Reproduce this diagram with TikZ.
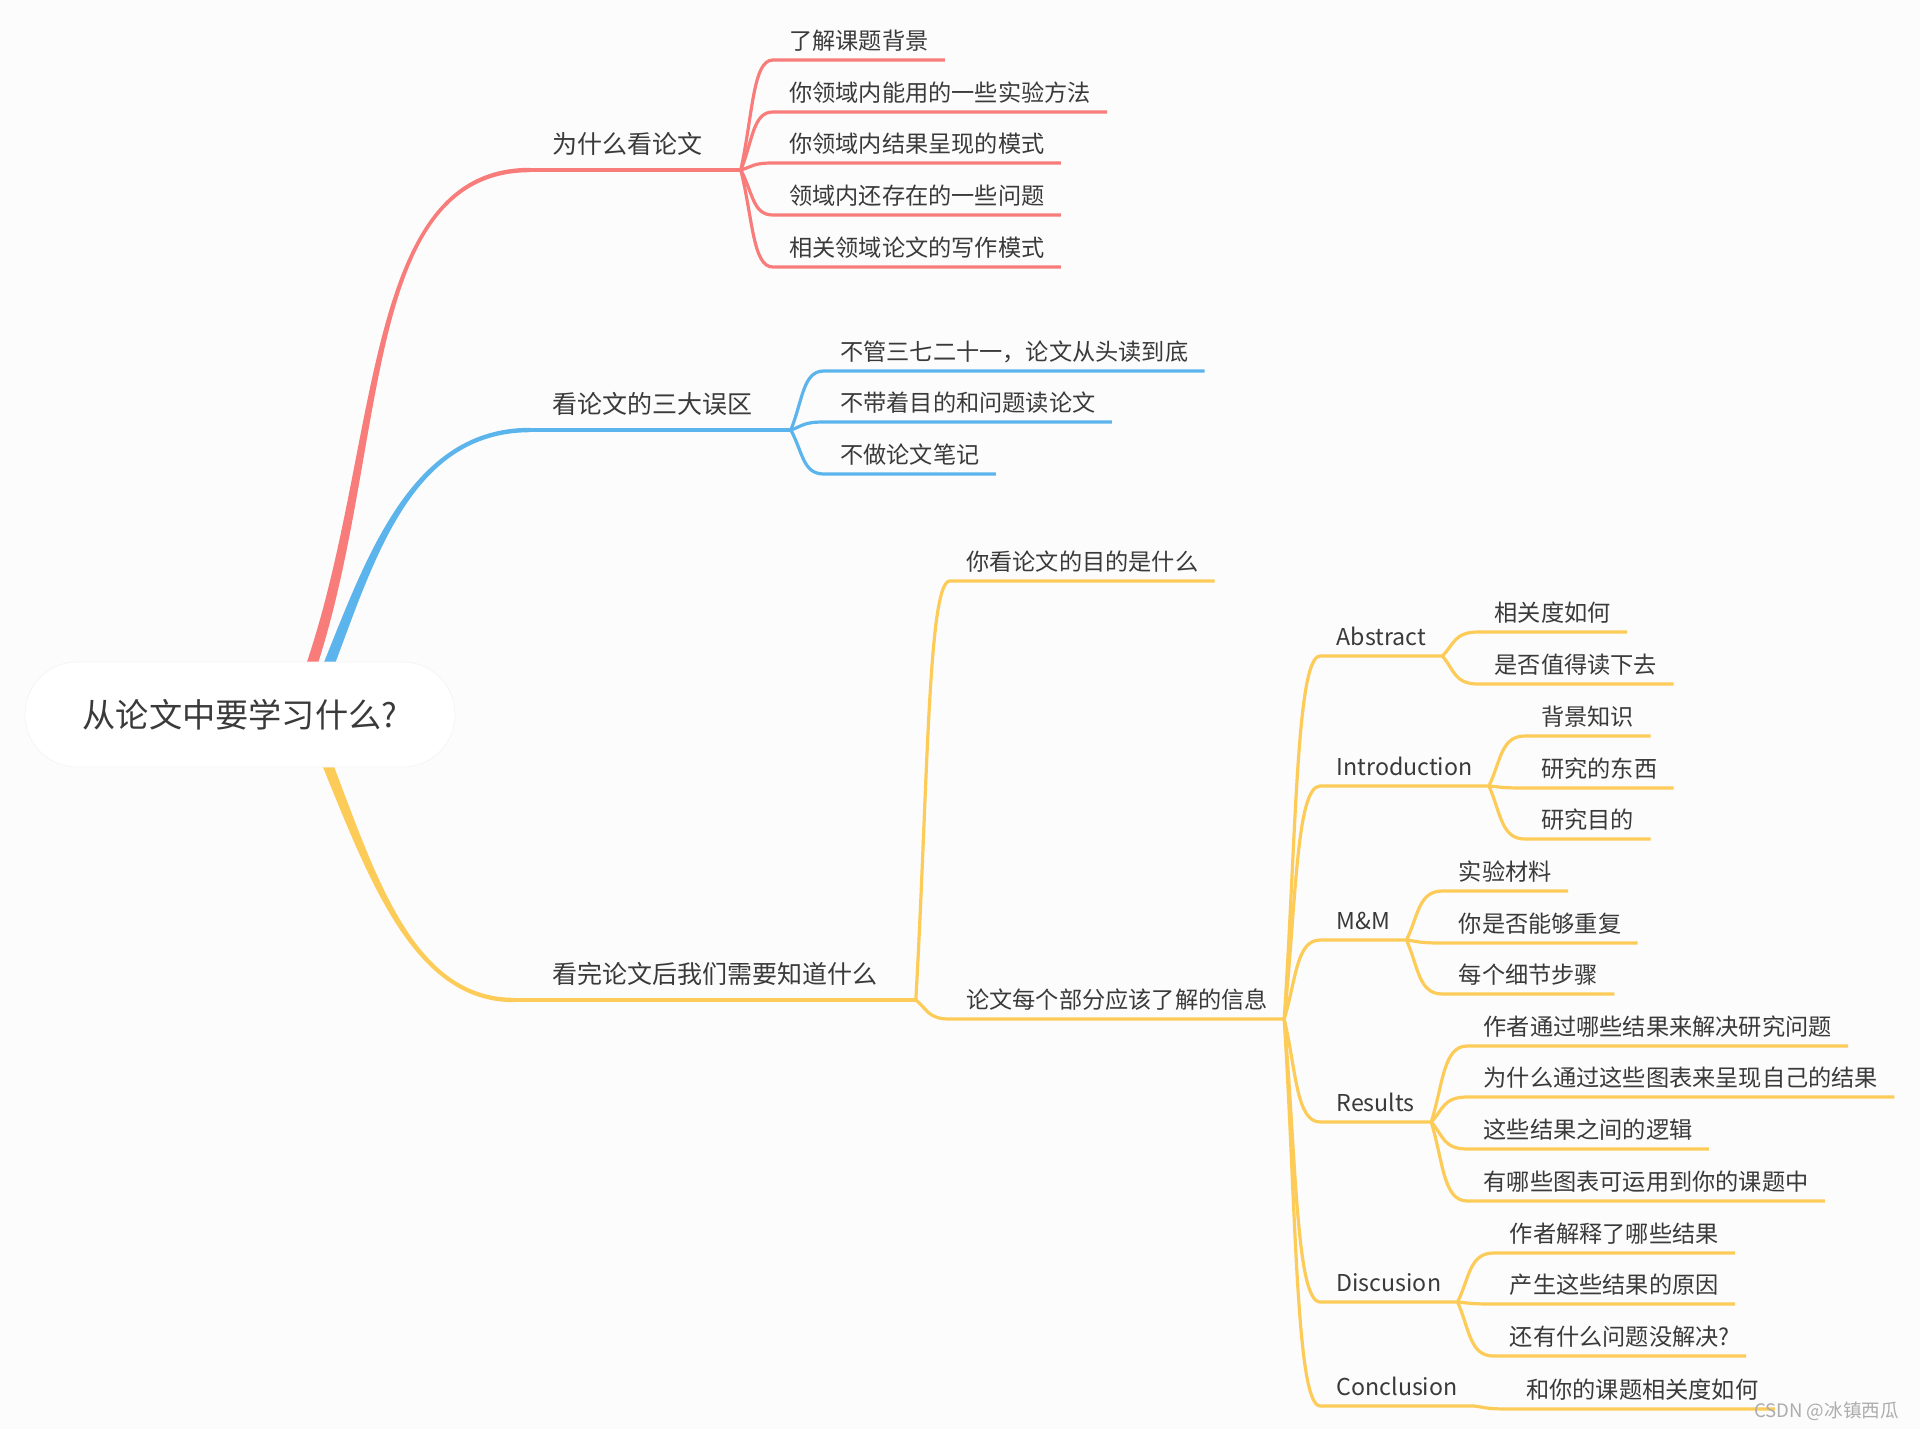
\documentclass[tikz,border=0pt]{standalone}
\usepackage{fontspec}
\setmainfont{Noto Sans CJK SC}
\usetikzlibrary{calc}
\definecolor{cred}{HTML}{F77C7A}
\definecolor{cblue}{HTML}{5CB4EC}
\definecolor{cyel}{HTML}{FCCB58}
\definecolor{ink}{HTML}{3A3A3A}
\definecolor{paper}{HTML}{FCFCFC}
\tikzset{
  topic/.style={anchor=south west, text=ink, font=\fontsize{12.5}{15}\selectfont,
                inner xsep=19pt, inner ysep=8.2pt, text depth=0pt},
  leaf/.style={anchor=south west, text=ink, font=\fontsize{11.6}{14}\selectfont,
               inner xsep=8pt, inner ysep=5.2pt, text depth=0pt},
  twig/.style={to path={let \p1=(\tikztostart), \p2=(\tikztotarget) in
               .. controls (\x1+6pt,{0.5*(\y1+\y2)}) and (\x1+6pt,\y2) .. (\tikztotarget)}},
  limb/.style={line width=2.2pt},
  thin/.style={line width=1.6pt}
}

\begin{document}
\begin{tikzpicture}[x=0.5pt, y=-0.5pt]

\fill[paper] (0,0) rectangle (1920,1429);

% main topics
\node[topic] (why) at (514,170) {为什么看论文};
\node[topic] (pit) at (514,430) {看论文的三大误区};
\node[topic] (know) at (514,1000) {看完论文后我们需要知道什么};

\foreach [count=\i] \dy/\t in {-110/了解课题背景,
                               -58/你领域内能用的一些实验方法,
                               -7/你领域内结果呈现的模式,
                               45/领域内还存在的一些问题,
                               97/相关领域论文的写作模式}
  {
   \node[leaf] (why-\i) at ($(why.south east)+(32,\dy)$) {\t};
   \draw[cred, thin] (why.south east) to[twig] (why-\i.south west) -- (why-\i.south east);
  }

\foreach [count=\i] \dy/\t in {-59/不管三七二十一，论文从头读到底,
                               -8/不带着目的和问题读论文,
                               44/不做论文笔记}
  {
   \node[leaf] (pit-\i) at ($(pit.south east)+(33,\dy)$) {\t};
   \draw[cblue, thin] (pit.south east) to[twig] (pit-\i.south west) -- (pit-\i.south east);
  }

\node[leaf] (aim) at ($(know.south east)+(34,-419)$) {你看论文的目的是什么};
\node[leaf] (part) at ($(know.south east)+(34,19)$) {论文每个部分应该了解的信息};
\foreach \nm in {aim, part}
  \draw[cyel, thin] (know.south east) to[twig] (\nm.south west) -- (\nm.south east);

% sections of a paper
\foreach \dy/\nm/\t in {-363/abs/Abstract,
                        -233/intro/Introduction,
                        -79/mm/M\&M,
                        103/res/Results,
                        283/disc/Discusion,
                        387/conc/Conclusion}
  {
   \node[leaf] (\nm) at ($(part.south east)+(36,\dy)$) {\t};
   \draw[cyel, thin] (part.south east) to[twig] (\nm.south west) -- (\nm.south east);
  }

\foreach \sec/\list in {abs/{-24/相关度如何, 28/是否值得读下去},
                        intro/{-50/背景知识, 2/研究的东西, 53/研究目的},
                        mm/{-49/实验材料, 3/你是否能够重复, 54/每个细节步骤},
                        res/{-76/作者通过哪些结果来解决研究问题, -25/为什么通过这些图表来呈现自己的结果,
                             27/这些结果之间的逻辑, 79/有哪些图表可运用到你的课题中},
                        disc/{-49/作者解释了哪些结果, 2/产生这些结果的原因, 54/还有什么问题没解决?},
                        conc/{3/和你的课题相关度如何}}
  {
   \foreach [count=\i] \dy/\t in \list
     {
      \node[leaf] (\sec-\i) at ($(\sec.south east)+(36,\dy)$) {\t};
      \draw[cyel, thin] (\sec.south east) to[twig] (\sec-\i.south west) -- (\sec-\i.south east);
     }
  }

% tapered limbs out of the central topic
\coordinate (why-in) at ($(why.south west)+(16,0)$);
\coordinate (pit-in) at ($(pit.south west)+(16,0)$);
\fill[cred] (304.8,668.2) .. controls (381,448.6) and (360,167.6) ..
  ($(why-in)+(0,-2.2)$) -- ($(why-in)+(0,2.2)$)
  .. controls (360,172.4) and (389,451.4) .. (315.2,671.8) -- cycle;
\fill[cblue] (320.9,670) .. controls (366,558.5) and (410,427.6) ..
  ($(pit-in)+(0,-2.2)$) -- ($(pit-in)+(0,2.2)$)
  .. controls (410,432.4) and (374,561.5) .. (331.1,674) -- cycle;
\fill[cyel] (316.7,752) .. controls (366.3,871.5) and (410,1002.2) ..
  ($(know.south west)+(0,2.2)$) -- ($(know.south west)+(0,-2.2)$)
  .. controls (410,997.8) and (373.7,868.5) .. (326.9,748) -- cycle;
\draw[cred, limb] (why-in) -- (why.south east);
\draw[cblue, limb] (pit-in) -- (pit.south east);
\draw[cyel, limb] (know.south west) -- (know.south east);

\node[fill=white, draw=black!4, rounded corners=26pt, minimum width=215pt,
      minimum height=52.5pt, text=ink, font=\fontsize{16.6}{20}\selectfont]
     (root) at (240,714.5) {从论文中要学习什么?\hspace{7pt}};

\node[anchor=east, text=black!32, font=\fontsize{9.3}{11}\selectfont]
     (mark) at (1906,1411) {CSDN @冰镇西瓜};

\end{tikzpicture}
\end{document}
